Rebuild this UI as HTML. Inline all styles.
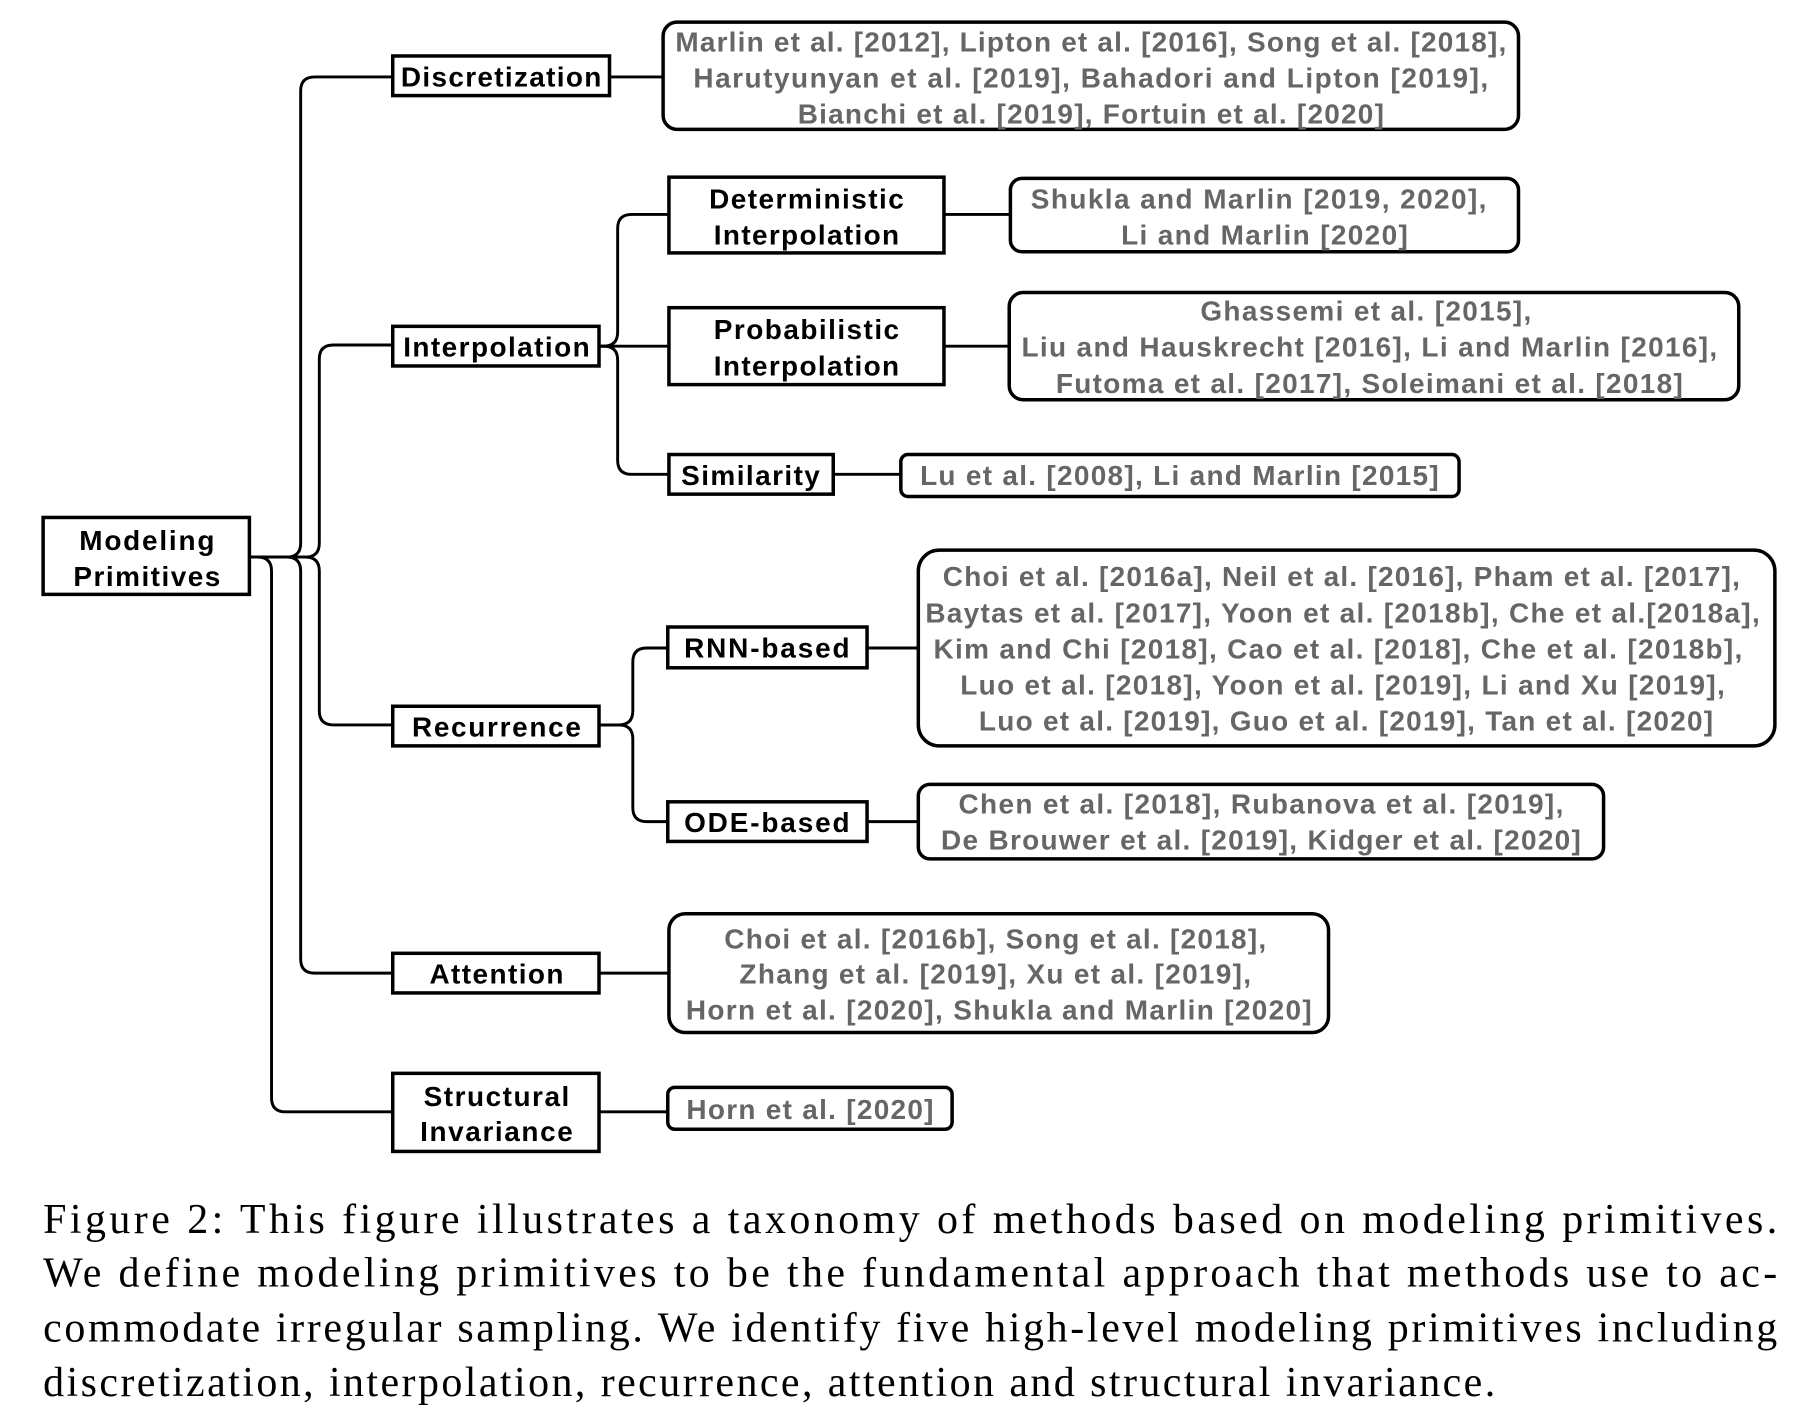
<!DOCTYPE html>
<html><head><meta charset="utf-8"><style>
html,body{margin:0;padding:0;background:#fff;width:1818px;height:1416px;overflow:hidden}
svg{display:block}
.b{font-family:"Liberation Sans",sans-serif;font-weight:bold;font-size:24px;fill:#000}
.r{font-family:"Liberation Sans",sans-serif;font-weight:bold;font-size:24px;fill:#666}
.c{font-family:"Liberation Serif",serif;font-size:36px;fill:#000}
.bx{fill:#fff;stroke:#000;stroke-width:3}
.ln{fill:none;stroke:#000;stroke-width:2.5}
</style></head><body>
<svg width="1818" height="1416" viewBox="0 0 1560 1215" xmlns="http://www.w3.org/2000/svg">
<path class="ln" d="M214 478 H246 Q258 478 258 466 V78 Q258 66 270 66 H337"/>
<path class="ln" d="M214 478 H262 Q274 478 274 466 V308 Q274 296 286 296 H337"/>
<path class="ln" d="M214 478 H262 Q274 478 274 490 V610 Q274 622 286 622 H337"/>
<path class="ln" d="M214 478 H246 Q258 478 258 490 V823 Q258 835 270 835 H337"/>
<path class="ln" d="M214 478 H221 Q233 478 233 490 V942 Q233 954 245 954 H337"/>
<path class="ln" d="M514 297 H518 Q530 297 530 285 V196 Q530 184 542 184 H574"/>
<path class="ln" d="M514 297 H574"/>
<path class="ln" d="M514 297 H518 Q530 297 530 309 V395 Q530 407 542 407 H574"/>
<path class="ln" d="M514 622 H531 Q543 622 543 610 V568 Q543 556 555 556 H573"/>
<path class="ln" d="M514 622 H531 Q543 622 543 634 V693 Q543 705 555 705 H573"/>
<path class="ln" d="M523 66 H569"/>
<path class="ln" d="M810 184 H867"/>
<path class="ln" d="M810 297 H866"/>
<path class="ln" d="M715 407 H773"/>
<path class="ln" d="M744 556 H788"/>
<path class="ln" d="M744 705 H788"/>
<path class="ln" d="M514 835 H574"/>
<path class="ln" d="M514 954 H573"/>
<rect class="bx" x="37" y="444" width="177" height="66"/>
<text class="b" x="126" y="472" text-anchor="middle" textLength="116">Modeling</text>
<text class="b" x="126" y="503" text-anchor="middle" textLength="126">Primitives</text>
<rect class="bx" x="337" y="48" width="186" height="34"/>
<text class="b" x="430" y="74" text-anchor="middle" textLength="172">Discretization</text>
<rect class="bx" x="337" y="280" width="177" height="34"/>
<text class="b" x="426" y="306" text-anchor="middle" textLength="160">Interpolation</text>
<rect class="bx" x="574" y="152" width="236" height="65"/>
<text class="b" x="692" y="179" text-anchor="middle" textLength="167">Deterministic</text>
<text class="b" x="692" y="210" text-anchor="middle" textLength="159">Interpolation</text>
<rect class="bx" x="574" y="264" width="236" height="66"/>
<text class="b" x="692" y="291" text-anchor="middle" textLength="159">Probabilistic</text>
<text class="b" x="692" y="322" text-anchor="middle" textLength="159">Interpolation</text>
<rect class="bx" x="574" y="390" width="141" height="34"/>
<text class="b" x="644" y="416" text-anchor="middle" textLength="119">Similarity</text>
<rect class="bx" x="337" y="606" width="177" height="34"/>
<text class="b" x="426" y="632" text-anchor="middle" textLength="145">Recurrence</text>
<rect class="bx" x="573" y="538" width="171" height="35"/>
<text class="b" x="658" y="564" text-anchor="middle" textLength="142">RNN-based</text>
<rect class="bx" x="573" y="688" width="171" height="34"/>
<text class="b" x="658" y="714" text-anchor="middle" textLength="142">ODE-based</text>
<rect class="bx" x="337" y="818" width="177" height="34"/>
<text class="b" x="426" y="844" text-anchor="middle" textLength="115">Attention</text>
<rect class="bx" x="337" y="921" width="177" height="67"/>
<text class="b" x="426" y="949" text-anchor="middle" textLength="125">Structural</text>
<text class="b" x="426" y="979" text-anchor="middle" textLength="131">Invariance</text>
<rect class="bx" x="569" y="19" width="734" height="92" rx="12"/>
<text class="r" x="936" y="44" text-anchor="middle" textLength="713">Marlin et al. [2012], Lipton et al. [2016], Song et al. [2018],</text>
<text class="r" x="936" y="75" text-anchor="middle" textLength="682">Harutyunyan et al. [2019],  Bahadori and Lipton [2019],</text>
<text class="r" x="936" y="106" text-anchor="middle" textLength="503">Bianchi et al. [2019], Fortuin et al. [2020]</text>
<rect class="bx" x="867" y="153" width="436" height="63" rx="10"/>
<text class="r" x="1080" y="179" text-anchor="middle" textLength="391">Shukla and Marlin [2019, 2020],</text>
<text class="r" x="1085" y="210" text-anchor="middle" textLength="246">Li and Marlin [2020]</text>
<rect class="bx" x="866" y="251" width="626" height="92" rx="12"/>
<text class="r" x="1172" y="275" text-anchor="middle" textLength="284">Ghassemi et al. [2015],</text>
<text class="r" x="1175" y="306" text-anchor="middle" textLength="597">Liu and Hauskrecht [2016], Li and Marlin [2016],</text>
<text class="r" x="1175" y="337" text-anchor="middle" textLength="538">Futoma et al. [2017], Soleimani et al. [2018]</text>
<rect class="bx" x="773" y="390" width="479" height="36" rx="6"/>
<text class="r" x="1012" y="416" text-anchor="middle" textLength="445">Lu et al. [2008], Li and Marlin [2015]</text>
<rect class="bx" x="788" y="472" width="735" height="168" rx="18"/>
<text class="r" x="1151" y="503" text-anchor="middle" textLength="684">Choi et al. [2016a], Neil et al. [2016], Pham et al. [2017],</text>
<text class="r" x="1152" y="534" text-anchor="middle" textLength="716">Baytas et al. [2017], Yoon et al. [2018b], Che et al.[2018a],</text>
<text class="r" x="1148" y="565" text-anchor="middle" textLength="694">Kim and Chi [2018], Cao et al. [2018], Che et al. [2018b],</text>
<text class="r" x="1152" y="596" text-anchor="middle" textLength="656">Luo et al. [2018], Yoon et al. [2019], Li and Xu [2019],</text>
<text class="r" x="1155" y="627" text-anchor="middle" textLength="630">Luo et al. [2019], Guo et al. [2019], Tan et al. [2020]</text>
<rect class="bx" x="788" y="673" width="588" height="64" rx="10"/>
<text class="r" x="1082" y="698" text-anchor="middle" textLength="519">Chen et al. [2018], Rubanova et al. [2019],</text>
<text class="r" x="1082" y="729" text-anchor="middle" textLength="549">De Brouwer et al. [2019], Kidger et al. [2020]</text>
<rect class="bx" x="574" y="784" width="566" height="102" rx="14"/>
<text class="r" x="854" y="814" text-anchor="middle" textLength="465">Choi et al. [2016b], Song et al. [2018],</text>
<text class="r" x="854" y="844" text-anchor="middle" textLength="439">Zhang et al. [2019], Xu et al. [2019],</text>
<text class="r" x="857" y="875" text-anchor="middle" textLength="537">Horn et al. [2020], Shukla and Marlin [2020]</text>
<rect class="bx" x="573" y="933" width="244" height="36" rx="6"/>
<text class="r" x="695" y="960" text-anchor="middle" textLength="212">Horn et al. [2020]</text>
<text class="c" x="37" y="1058" textLength="1488" lengthAdjust="spacing">Figure 2:  This figure illustrates a taxonomy of methods based on modeling primitives.</text>
<text class="c" x="37" y="1104" textLength="1488" lengthAdjust="spacing">We define modeling primitives to be the fundamental approach that methods use to ac-</text>
<text class="c" x="37" y="1151" textLength="1488" lengthAdjust="spacing">commodate irregular sampling.  We identify five high-level modeling primitives including</text>
<text class="c" x="37" y="1198" textLength="1246" lengthAdjust="spacing">discretization, interpolation, recurrence, attention and structural invariance.</text>
</svg>
</body></html>
